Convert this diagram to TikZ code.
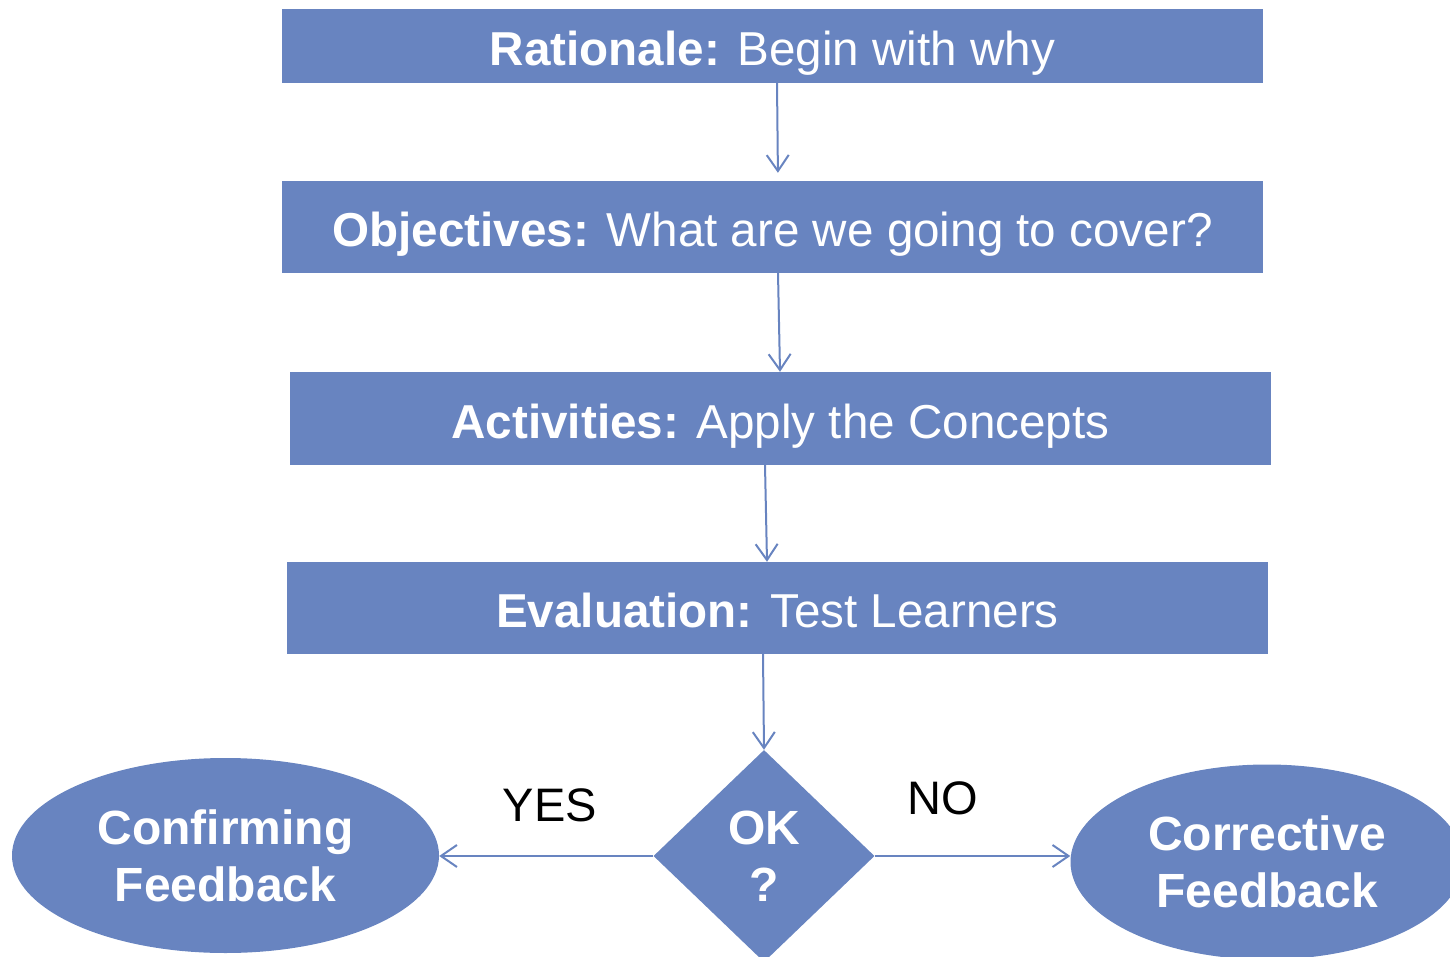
\documentclass[tikz,border=0pt]{standalone}
\usepackage{fontspec}
\setmainfont{Liberation Sans}
\usetikzlibrary{shapes.geometric,arrows.meta}
\definecolor{flowblue}{RGB}{104,132,192}
\begin{document}
\begin{tikzpicture}[x=1pt,y=-1pt,
  stepbox/.style={fill=flowblue,text=white,minimum width=981pt,minimum height=#1,inner sep=0pt,
    text height=39pt,text depth=0pt,font=\fontsize{47.6}{57}\selectfont},
  stepbox/.default=92pt,
  oval/.style={ellipse,fill=flowblue,text=white,inner sep=0pt,align=center,
    font=\fontsize{48}{57}\selectfont\bfseries},
  flow/.style={draw=flowblue,line width=2pt,-{Straight Barb[length=16pt,width=22pt,line width=2pt]}},
  answer/.style={font=\fontsize{47}{56}\selectfont,text=black}]
\useasboundingbox (0,0) rectangle (1450,957);
% process steps
\node[stepbox=74pt] (b1) at (772.5,46) {\textbf{Rationale:} Begin with why};
\node[stepbox] (b2) at (772.5,227) {\textbf{Objectives:} What are we going to cover?};
\node[stepbox=93pt] (b3) at (780.5,418.5) {\textbf{Activities:} Apply the Concepts};
\node[stepbox] (b4) at (777.5,608) {\textbf{Evaluation:} Test Learners};
% decision and outcomes
\node[diamond,fill=flowblue,text=white,minimum width=221pt,minimum height=212pt,inner sep=0pt,
  align=center,font=\fontsize{48}{57}\selectfont\bfseries] (ok) at (764,856) {\raisebox{-2pt}{OK}\\\raisebox{-2pt}{?}};
\node[oval,minimum width=427pt,minimum height=195pt] (yes) at (225.5,855.5) {\raisebox{-2pt}{Confirming}\\\raisebox{-2pt}{Feedback}};
\node[oval,minimum width=393pt,minimum height=195pt] (no) at (1267,862) {\raisebox{-2pt}{Corrective}\\\raisebox{-2pt}{Feedback}};
% connectors
\draw[flow,shorten >=8pt] ([xshift=4.5pt]b1.south) -- ([xshift=5.5pt]b2.north);
\draw[flow] ([xshift=5.5pt]b2.south) -- ([xshift=-0.5pt]b3.north);
\draw[flow] ([xshift=-15.5pt]b3.south) -- ([xshift=-10.5pt]b4.north);
\draw[flow] ([xshift=-14.5pt]b4.south) -- (ok.north);
\draw[flow] (ok.west) -- (yes.east |- ok.west);
\draw[flow] (ok.east) -- (no.west |- ok.east);
\node[answer] (yeslabel) at (550,805) {YES};
\node[answer] (nolabel) at (943,798) {NO};
\end{tikzpicture}
\end{document}
